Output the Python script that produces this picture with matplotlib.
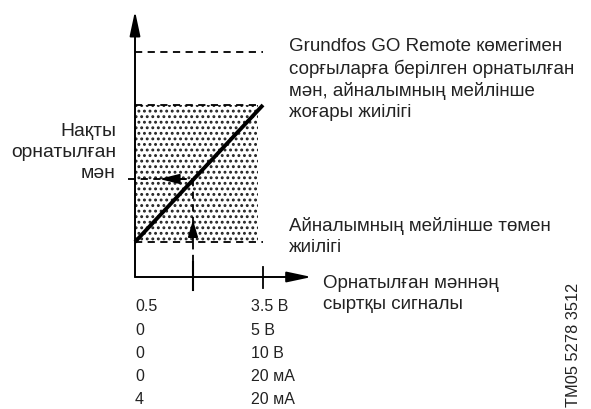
import matplotlib
matplotlib.use("Agg")
import matplotlib.pyplot as plt
from matplotlib.patches import Rectangle

plt.rcParams['font.family'] = ['Liberation Sans', 'DejaVu Sans']
plt.rcParams['hatch.linewidth'] = 1.3

# setpoint range in relative units: signal 0..1, speed 0..1 (min..max)
sig_min, sig_max = 0.0, 1.0
speed_min, speed_max = 0.0, 1.0
speed_remote = 1.387      # max speed set with Grundfos GO Remote
sig_actual = 0.453        # example external signal
speed_actual = 0.46       # resulting actual setpoint

# signal ranges shown under the x axis
range_lo = ['0.5', '0', '0', '0', '4']
range_hi = ['3.5 В', '5 В', '10 В', '20 мА', '20 мА']

fig = plt.figure(figsize=(5.91, 4.10), dpi=100)
ax = fig.add_axes([0, 0, 1, 1])
# one unit in x = 128 px, one unit in y = 137 px
ax.set_xlim(-135 / 128, (591 - 135) / 128)
ax.set_ylim((243 - 410) / 137, 243 / 137)
ax.axis('off')

x0 = sig_min
y_axis = (243 - 278) / 137
k = 'black'

# axes with arrows
ax.annotate('', xy=(x0, 1.686), xytext=(x0, y_axis),
            arrowprops=dict(arrowstyle='-|>,head_length=1.5,head_width=0.32',
                            color=k, lw=1.4, shrinkA=0, shrinkB=0))
ax.annotate('', xy=(1.38, y_axis), xytext=(x0, y_axis),
            arrowprops=dict(arrowstyle='-|>,head_length=1.5,head_width=0.32',
                            color=k, lw=1.4, shrinkA=0, shrinkB=0))

# dotted band between min and max speed
ax.add_patch(Rectangle((sig_min, speed_min), sig_max - 0.04, speed_max - speed_min,
                       facecolor='white', edgecolor='#222222', hatch='...',
                       lw=0))
dash = (0, (4, 3))
ax.plot([sig_min, sig_max], [speed_remote, speed_remote], color=k, lw=1.3, ls=dash)
ax.plot([sig_min, sig_max - 0.04], [speed_max, speed_max], color=k, lw=1.3, ls=dash)
ax.plot([sig_min, sig_max], [speed_min, speed_min], color=k, lw=1.3, ls=dash)

# setpoint characteristic
ax.plot([sig_min, sig_max], [speed_min, speed_max], color=k, lw=2.8,
        solid_capstyle='butt')

# reading an actual setpoint from the signal
ax.plot([-0.055, sig_actual], [speed_actual, speed_actual], color=k, lw=1.3, ls=dash)
ax.plot([sig_actual, sig_actual], [speed_actual, (243 - 290) / 137],
        color=k, lw=1.3, ls=dash)
ax.annotate('', xy=(0.19, speed_actual), xytext=(0.40, speed_actual),
            arrowprops=dict(arrowstyle='-|>,head_length=1.2,head_width=0.3',
                            color=k, lw=1.3, shrinkA=0, shrinkB=0))
ax.annotate('', xy=(sig_actual, 0.16), xytext=(sig_actual, 0.0),
            arrowprops=dict(arrowstyle='-|>,head_length=1.0,head_width=0.3',
                            color=k, lw=1.3, shrinkA=0, shrinkB=0))

# ticks on the signal axis
ax.plot([sig_actual, sig_actual], [(243 - 263) / 137, (243 - 291) / 137], color=k, lw=1.5)
ax.plot([sig_max, sig_max], [(243 - 268) / 137, (243 - 289) / 137], color=k, lw=1.3)

fs = 13.5
ls = 1.3
txt = '#222222'

def px(x, y):
    return x / 591, 1 - y / 410

fig.text(*px(289, 38), 'Grundfos GO Remote көмегімен\nсорғыларға берілген орнатылған\n'
         'мән, айналымның мейлінше\nжоғары жиілігі', fontsize=fs, va='top',
         ha='left', linespacing=ls, color=txt)
fig.text(*px(289, 217), 'Айналымның мейлінше төмен\nжиілігі', fontsize=fs, va='top',
         ha='left', linespacing=ls, color=txt)
fig.text(*px(323, 275), 'Орнатылған мәннәң\nсыртқы сигналы', fontsize=fs, va='top',
         ha='left', linespacing=ls, color=txt)
fig.text(*px(116, 123), 'Нақты\nорнатылған\nмән', fontsize=13.9, va='top',
         ha='right', multialignment='right', linespacing=ls, color=txt)

for i, (lo, hi) in enumerate(zip(range_lo, range_hi)):
    y = 307 + i * 23.2
    fig.text(*px(135, y), lo, fontsize=11.5, va='center', ha='left', color=txt)
    fig.text(*px(251, y), hi, fontsize=11.5, va='center', ha='left', color=txt)

fig.text(*px(574, 345), 'TM05 5278 3512', fontsize=11.8, rotation=90,
         va='center', ha='center', color=txt)

fig.savefig('out.png', dpi=100)
